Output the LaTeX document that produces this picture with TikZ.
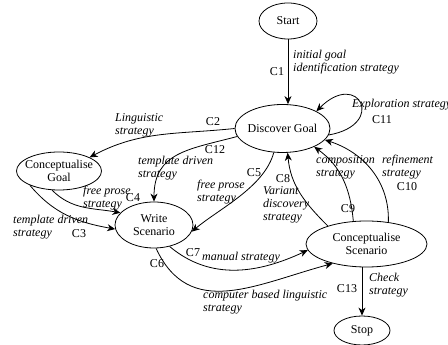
\documentclass[tikz,border=0pt]{standalone}
\usepackage{fontspec}
\setmainfont{Liberation Serif}
\usetikzlibrary{arrows.meta,shapes.geometric}

\tikzset{
	goalnode/.style={ellipse, draw, line width=0.8pt, inner xsep=-12pt, inner ysep=0pt, align=center, font=\fontsize{12}{13.5}\selectfont},
	strat/.style={anchor=west, align=left, inner sep=0pt, font=\fontsize{12}{13}\selectfont\itshape},
	cnum/.style={inner sep=0pt, font=\fontsize{12}{13}\selectfont},
	flow/.style={line width=0.8pt, -{Stealth[length=8pt,width=7pt,inset=2.5pt]}}
}

\begin{document}
\begin{tikzpicture}[x=1pt,y=1pt]
		\useasboundingbox (0,0) rectangle (448,345);

		\node[goalnode, minimum width=58pt, minimum height=36pt] (start) at (288,324) {Start};
		\node[goalnode, minimum width=95pt, minimum height=48pt] (dg) at (282.5,216.5) {Discover Goal};
		\node[goalnode, minimum width=85pt, minimum height=38pt] (cg) at (59,174) {Conceptualise\\Goal};
		\node[goalnode, minimum width=78pt, minimum height=46pt] (ws) at (154,120) {Write\\Scenario};
		\node[goalnode, minimum width=121pt, minimum height=46pt] (cs) at (366.5,101) {Conceptualise\\Scenario};
		\node[goalnode, minimum width=56pt, minimum height=29pt] (stop) at (362,14.5) {Stop};

		% strategies
		\draw[flow] (start.south) -- (start.south |- dg.north);
		\draw[flow] (dg.west) to[out=186,in=28] (cg.24);
		\draw[flow] (dg.190) to[out=195,in=90,looseness=1.2] (ws.north);
		\draw[flow] (dg.250) to[out=255,in=40,looseness=0.8] (ws.-10);
		\draw[flow] (cg.250) to[out=-45,in=170] (ws.160);
		\draw[flow] (cg.206) to[out=-50,in=170] (ws.186);
		\draw[flow] (ws.-54) to[out=-40,in=205] (cs.186);
		\draw[flow] (ws.-85) to[out=-65,in=195,looseness=1.15] (cs.210);
		\draw[flow] (cs.155) to[out=135,in=-85] (dg.-78);
		\draw[flow] (cs.120) to[out=95,in=-36] (dg.-30);
		\draw[flow] (cs.45) to[out=88,in=-18] (dg.-15);
		\draw[flow] (dg.-8) to[out=10,in=45,looseness=5.7] (dg.27);
		\draw[flow] (cs.south -| stop.north) -- (stop.north);

		% labels
		\node[cnum] (c1) at (277,273) {C1};
		\node[strat] (s1) at (293,283) {initial goal\\identification strategy};
		\node[cnum] (c2) at (213,223) {C2};
		\node[strat] (s2) at (115,219.5) {Linguistic\\strategy};
		\node[cnum] (c12) at (215,195) {C12};
		\node[strat] (s12) at (138,177) {template driven\\strategy};
		\node[cnum] (c5) at (254,172) {C5};
		\node[strat] (s5) at (197,152.5) {free prose\\strategy};
		\node[cnum] (c8) at (283,166) {C8};
		\node[strat] (s8) at (263,140) {Variant\\discovery\\strategy};
		\node[cnum] (c9) at (348,136) {C9};
		\node[strat] (s9) at (316,177.5) {composition\\strategy};
		\node[cnum] (c10) at (407,158) {C10};
		\node[strat] (s10) at (382,177.5) {refinement\\strategy};
		\node[cnum] (c11) at (382,225) {C11};
		\node[strat] (s11) at (352,240) {Exploration strategy};
		\node[cnum] (c4) at (133,147) {C4};
		\node[strat] (s4) at (83,146.5) {free prose\\strategy};
		\node[cnum] (c3) at (79,111) {C3};
		\node[strat] (s3) at (13,117.5) {template driven\\strategy};
		\node[cnum] (c7) at (193,92) {C7};
		\node[strat] (s7) at (202,87) {manual strategy};
		\node[cnum] (c6) at (157,81) {C6};
		\node[strat] (s6) at (203,42.5) {computer based linguistic\\strategy};
		\node[cnum] (c13) at (347,56) {C13};
		\node[strat] (s13) at (369,59.5) {Check\\strategy};
	\end{tikzpicture}
\end{document}
